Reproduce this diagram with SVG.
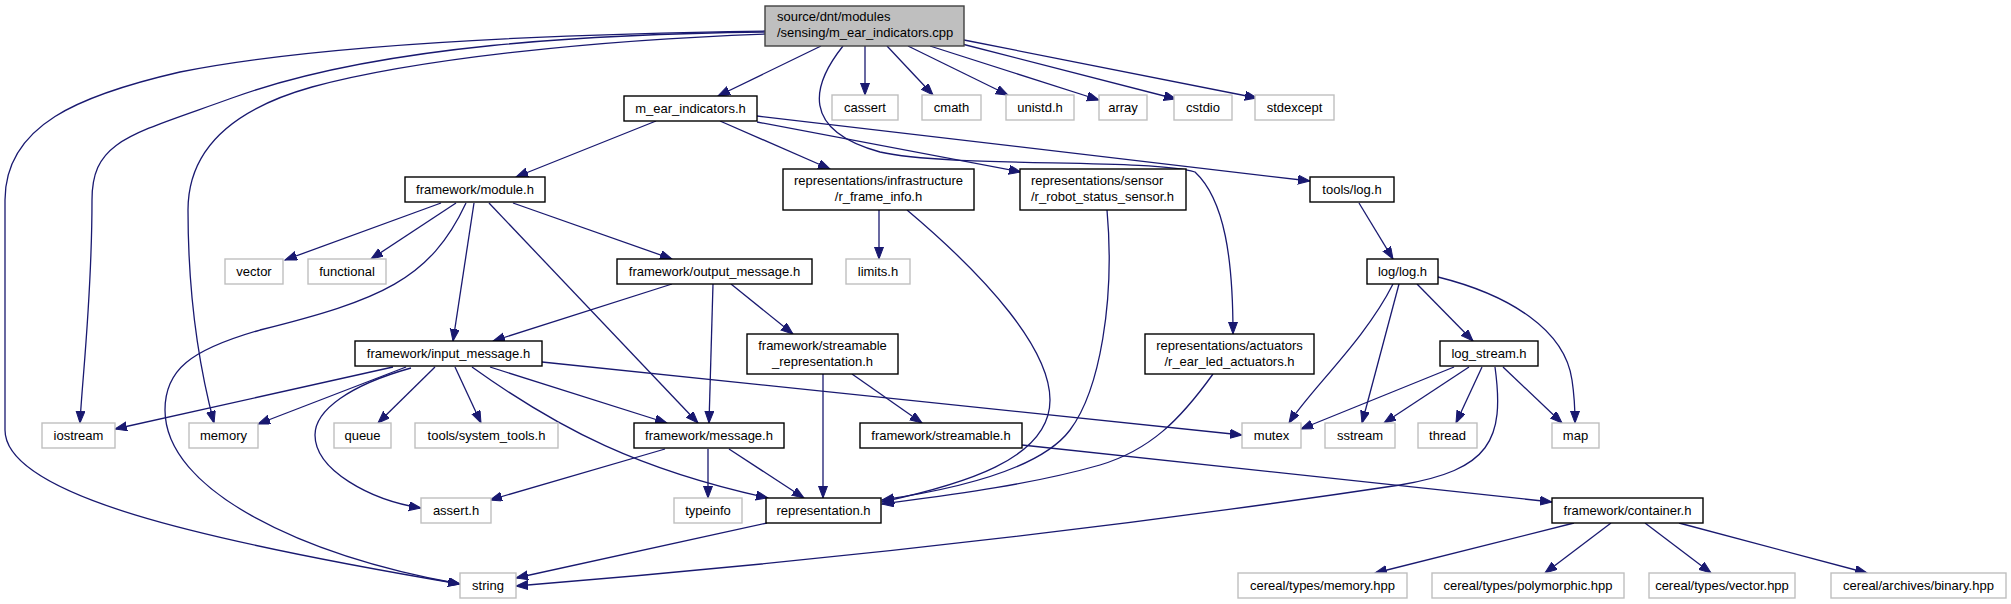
<svg xmlns="http://www.w3.org/2000/svg" width="2011" height="604" viewBox="0 0 2011 604">
<style>
.n rect{fill:#ffffff;stroke:#000000;stroke-width:1.4}
.g rect{fill:#ffffff;stroke:#bfbfbf;stroke-width:1.4}
.r rect{fill:#bfbfbf;stroke:#404040;stroke-width:1.4}
text{font-family:"Liberation Sans",Arial,sans-serif;font-size:13px;fill:#000000;text-anchor:middle}
text.l{text-anchor:start}
#edges path{fill:none;stroke:#191970;stroke-width:1.3;marker-end:url(#ah)}
</style>
<defs>
<marker id="ah" markerUnits="userSpaceOnUse" markerWidth="13" markerHeight="10" refX="12" refY="4.5" orient="auto">
<path d="M0,0 L12,4.5 L0,9 z" fill="#191970" stroke="#191970" stroke-width="1"/>
</marker>
</defs>
<rect x="0" y="0" width="2011" height="604" fill="#ffffff"/>
<g id="edges">
<path d="M821,46 L718,96"/>
<path d="M865,46 L865,95"/>
<path d="M887,46 L933,95"/>
<path d="M908,46 L1008,95"/>
<path d="M930,46 L1099,100"/>
<path d="M962,44 L1176,99"/>
<path d="M964,40 L1257,98"/>
<path d="M843,46 C812,85 800,130 880,152 C950,168 1150,158 1195,172 C1225,200 1233,260 1233,334"/>
<path d="M766,31 C560,34 320,44 180,72 C80,95 5,125 5,200 L5,430 C5,495 200,540 460,584"/>
<path d="M766,32 C600,34 380,44 232,98 C130,135 92,140 92,200 C92,300 82,380 80,423"/>
<path d="M766,34 C600,40 420,58 312,87 C230,110 188,150 188,210 C188,300 200,370 214,423"/>
<path d="M656,121 L516,177"/>
<path d="M720,121 L830,169"/>
<path d="M757,122 L1021,172"/>
<path d="M757,116 L1310,181"/>
<path d="M441,203 L285,260"/>
<path d="M456,203 L371,259"/>
<path d="M466,203 C430,280 380,300 260,330 C190,350 165,370 165,410 C165,490 300,555 460,584"/>
<path d="M474,203 L453,341"/>
<path d="M489,203 L698,423"/>
<path d="M513,203 L672,259"/>
<path d="M672,284 L493,341"/>
<path d="M713,284 L709,423"/>
<path d="M731,284 L793,334"/>
<path d="M393,367 L115,429"/>
<path d="M406,367 L258,424"/>
<path d="M411,368 C350,385 315,410 315,435 C315,470 370,500 421,508"/>
<path d="M435,367 L378,423"/>
<path d="M455,367 L481,423"/>
<path d="M472,367 C560,430 640,470 768,498"/>
<path d="M490,367 L667,423"/>
<path d="M542,362 L1242,435"/>
<path d="M665,449 L490,500"/>
<path d="M708,449 L708,498"/>
<path d="M729,449 L804,498"/>
<path d="M823,374 L823,498"/>
<path d="M852,374 L922,423"/>
<path d="M879,210 L879,259"/>
<path d="M907,210 C990,280 1050,350 1050,400 C1050,460 960,485 882,502"/>
<path d="M1107,210 C1115,300 1100,390 1070,430 C1040,470 950,490 882,500"/>
<path d="M1213,374 C1180,420 1150,450 1100,465 C1030,485 950,495 882,504"/>
<path d="M1022,445 L1552,502"/>
<path d="M767,523 L516,578"/>
<path d="M1495,367 C1505,440 1490,470 1400,485 C1200,515 900,555 516,586"/>
<path d="M1454,367 L1301,429"/>
<path d="M1469,367 L1384,423"/>
<path d="M1482,367 L1456,423"/>
<path d="M1503,367 L1562,423"/>
<path d="M1417,284 L1473,341"/>
<path d="M1393,284 C1365,340 1310,390 1289,423"/>
<path d="M1399,284 L1362,423"/>
<path d="M1438,277 C1510,295 1565,330 1572,380 C1575,400 1575,410 1575,423"/>
<path d="M1359,203 L1393,259"/>
<path d="M1574,523 L1375,573"/>
<path d="M1611,523 L1545,573"/>
<path d="M1645,523 L1711,573"/>
<path d="M1679,523 L1867,573"/>
</g>
<g id="n_root" class="r"><rect x="765" y="6" width="199" height="40"/><text class="l" x="777" y="21">source/dnt/modules</text><text class="l" x="777" y="37">/sensing/m_ear_indicators.cpp</text></g>
<g id="n_m_ear_indicators_h" class="n"><rect x="624" y="96" width="133" height="25"/><text x="690.5" y="113">m_ear_indicators.h</text></g>
<g id="n_cassert" class="g"><rect x="832" y="95" width="66" height="25"/><text x="865" y="112">cassert</text></g>
<g id="n_cmath" class="g"><rect x="922" y="95" width="59" height="25"/><text x="951.5" y="112">cmath</text></g>
<g id="n_unistd" class="g"><rect x="1006" y="95" width="68" height="25"/><text x="1040" y="112">unistd.h</text></g>
<g id="n_array" class="g"><rect x="1099" y="95" width="48" height="25"/><text x="1123" y="112">array</text></g>
<g id="n_cstdio" class="g"><rect x="1174" y="95" width="58" height="25"/><text x="1203" y="112">cstdio</text></g>
<g id="n_stdexcept" class="g"><rect x="1255" y="95" width="79" height="25"/><text x="1294.5" y="112">stdexcept</text></g>
<g id="n_module" class="n"><rect x="405" y="177" width="140" height="25"/><text x="475" y="194">framework/module.h</text></g>
<g id="n_r_frame_info" class="n"><rect x="783" y="169" width="191" height="41"/><text x="878.5" y="185">representations/infrastructure</text><text x="878.5" y="201">/r_frame_info.h</text></g>
<g id="n_r_robot_status_sensor" class="n"><rect x="1020" y="169" width="166" height="41"/><text class="l" x="1031" y="185">representations/sensor</text><text class="l" x="1031" y="201">/r_robot_status_sensor.h</text></g>
<g id="n_tools_log" class="n"><rect x="1310" y="177" width="84" height="25"/><text x="1352" y="194">tools/log.h</text></g>
<g id="n_vector" class="g"><rect x="225" y="259" width="58" height="25"/><text x="254" y="276">vector</text></g>
<g id="n_functional" class="g"><rect x="308" y="259" width="78" height="25"/><text x="347" y="276">functional</text></g>
<g id="n_output_message" class="n"><rect x="617" y="259" width="195" height="25"/><text x="714.5" y="276">framework/output_message.h</text></g>
<g id="n_limits" class="g"><rect x="846" y="259" width="64" height="25"/><text x="878" y="276">limits.h</text></g>
<g id="n_log_log" class="n"><rect x="1367" y="259" width="71" height="25"/><text x="1402.5" y="276">log/log.h</text></g>
<g id="n_input_message" class="n"><rect x="355" y="341" width="187" height="25"/><text x="448.5" y="358">framework/input_message.h</text></g>
<g id="n_streamable_representation" class="n"><rect x="747" y="334" width="151" height="40"/><text x="822.5" y="350">framework/streamable</text><text x="822.5" y="366">_representation.h</text></g>
<g id="n_r_ear_led_actuators" class="n"><rect x="1145" y="334" width="169" height="40"/><text x="1229.5" y="350">representations/actuators</text><text x="1229.5" y="366">/r_ear_led_actuators.h</text></g>
<g id="n_log_stream" class="n"><rect x="1440" y="341" width="98" height="25"/><text x="1489" y="358">log_stream.h</text></g>
<g id="n_iostream" class="g"><rect x="42" y="423" width="73" height="25"/><text x="78.5" y="440">iostream</text></g>
<g id="n_memory" class="g"><rect x="189" y="423" width="69" height="25"/><text x="223.5" y="440">memory</text></g>
<g id="n_queue" class="g"><rect x="334" y="423" width="57" height="25"/><text x="362.5" y="440">queue</text></g>
<g id="n_system_tools" class="g"><rect x="415" y="423" width="143" height="25"/><text x="486.5" y="440">tools/system_tools.h</text></g>
<g id="n_message" class="n"><rect x="634" y="423" width="150" height="25"/><text x="709" y="440">framework/message.h</text></g>
<g id="n_streamable" class="n"><rect x="860" y="423" width="162" height="25"/><text x="941" y="440">framework/streamable.h</text></g>
<g id="n_mutex" class="g"><rect x="1242" y="423" width="59" height="25"/><text x="1271.5" y="440">mutex</text></g>
<g id="n_sstream" class="g"><rect x="1325" y="423" width="70" height="25"/><text x="1360" y="440">sstream</text></g>
<g id="n_thread" class="g"><rect x="1418" y="423" width="59" height="25"/><text x="1447.5" y="440">thread</text></g>
<g id="n_map" class="g"><rect x="1552" y="423" width="47" height="25"/><text x="1575.5" y="440">map</text></g>
<g id="n_assert" class="g"><rect x="421" y="498" width="70" height="25"/><text x="456" y="515">assert.h</text></g>
<g id="n_typeinfo" class="g"><rect x="674" y="498" width="68" height="25"/><text x="708" y="515">typeinfo</text></g>
<g id="n_representation" class="n"><rect x="766" y="498" width="115" height="25"/><text x="823.5" y="515">representation.h</text></g>
<g id="n_container" class="n"><rect x="1552" y="498" width="151" height="25"/><text x="1627.5" y="515">framework/container.h</text></g>
<g id="n_string" class="g"><rect x="460" y="573" width="56" height="25"/><text x="488" y="590">string</text></g>
<g id="n_cereal_memory" class="g"><rect x="1238" y="573" width="169" height="25"/><text x="1322.5" y="590">cereal/types/memory.hpp</text></g>
<g id="n_cereal_polymorphic" class="g"><rect x="1432" y="573" width="192" height="25"/><text x="1528" y="590">cereal/types/polymorphic.hpp</text></g>
<g id="n_cereal_vector" class="g"><rect x="1649" y="573" width="146" height="25"/><text x="1722" y="590">cereal/types/vector.hpp</text></g>
<g id="n_cereal_binary" class="g"><rect x="1831" y="573" width="175" height="25"/><text x="1918.5" y="590">cereal/archives/binary.hpp</text></g>
</svg>
